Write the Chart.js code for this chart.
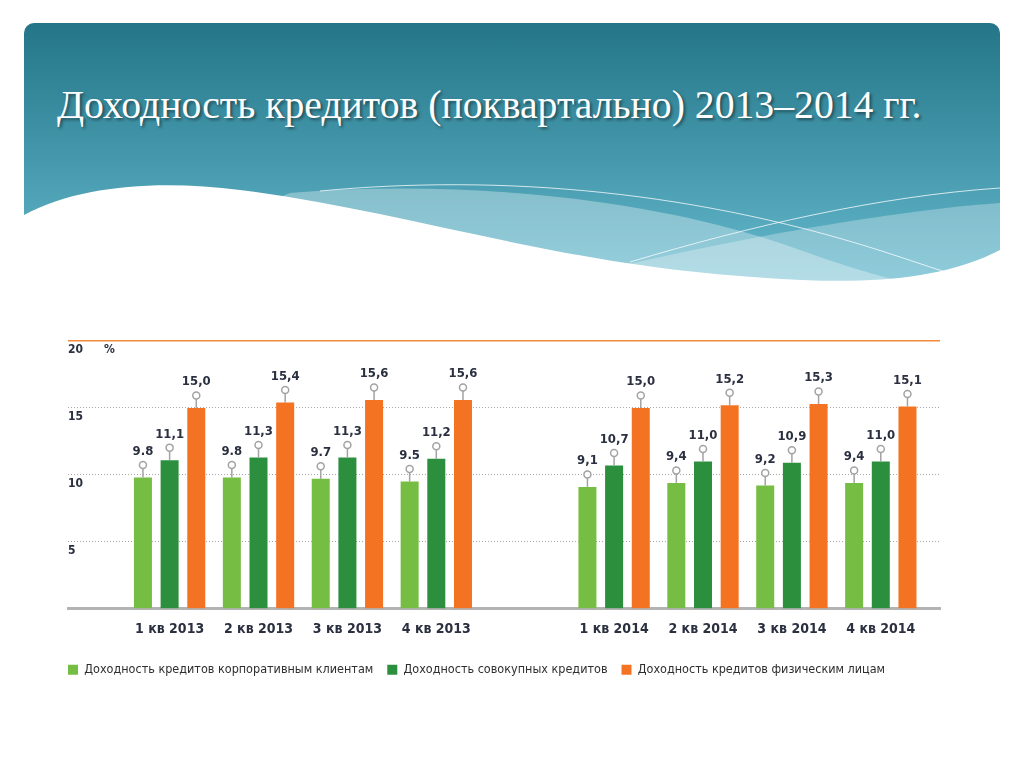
<!DOCTYPE html>
<html>
<head>
<meta charset="utf-8">
<script src="https://cdn.jsdelivr.net/npm/chart.js@4.4.1/dist/chart.umd.min.js"></script>
<style>
  html, body { margin: 0; padding: 0; background: #fff; }
  body { width: 1024px; height: 767px; position: relative; overflow: hidden; }
  #hdr { position: absolute; left: 0; top: 0; }
  #title { position: absolute; left: 57px; top: 85px; margin: 0; font-family: 'Liberation Serif', 'Times New Roman', serif; font-weight: normal; font-size: 39.7px; line-height: 40px; color: #fff; white-space: nowrap; text-shadow: 2px 2px 3px rgba(0,0,0,0.45); }
  #wrap { position: absolute; left: 0; top: 320px; width: 1024px; height: 380px; }
</style>
</head>
<body>
<svg id="hdr" width="1024" height="310" xmlns="http://www.w3.org/2000/svg">
  <defs>
    <linearGradient id="g" x1="0" y1="0" x2="0" y2="1">
      <stop offset="0" stop-color="#237587"/>
      <stop offset="1" stop-color="#6cc0d5"/>
    </linearGradient>
    <clipPath id="c"><rect x="24" y="23" width="976" height="285" rx="10"/></clipPath>
  </defs>
  <g clip-path="url(#c)">
    <rect x="24" y="23" width="976" height="285" fill="url(#g)"/>
    <path d="M290,193 C450,180 650,195 800,250 C870,275 900,282 940,287 L24,300 Z" fill="rgba(255,255,255,0.32)"/>
    <path d="M620,266 C750,236 900,210 1000,203 L1000,300 L620,300 Z" fill="rgba(255,255,255,0.28)"/>
    <path d="M320,191 C500,174 700,190 900,257 C930,267 945,272 965,278" fill="none" stroke="rgba(255,255,255,0.75)" stroke-width="1"/>
    <path d="M630,262 C750,226 880,196 1000,188" fill="none" stroke="rgba(255,255,255,0.75)" stroke-width="1"/>
  </g>
  <path d="M18,218 L24,215 C80,185 160,180 240,190 C400,210 550,262 740,276 C840,284 930,286 1000,250 L1006,246 L1006,310 L18,310 Z" fill="#fff"/>
</svg>
<h1 id="title">Доходность кредитов (поквартально) 2013–2014 гг.</h1>
<div id="wrap"><canvas id="c1" width="1024" height="380"></canvas></div>
<script>
const categories = ['1 кв 2013', '2 кв 2013', '3 кв 2013', '4 кв 2013', '1 кв 2014', '2 кв 2014', '3 кв 2014', '4 кв 2014'];
const corporate = [9.8, 9.8, 9.7, 9.5, 9.1, 9.4, 9.2, 9.4];
const total = [11.1, 11.3, 11.3, 11.2, 10.7, 11.0, 10.9, 11.0];
const individuals = [15.0, 15.4, 15.6, 15.6, 15.0, 15.2, 15.3, 15.1];
const seriesNames = ['Доходность кредитов корпоративным клиентам', 'Доходность совокупных кредитов', 'Доходность кредитов физическим лицам'];
const yTicks = [5, 10, 15, 20];
const unitLabel = '%';

const FONT = "'Liberation Sans Narrow', 'DejaVu Sans Condensed', 'Arial Narrow', sans-serif";
const TXT = '#2b3040';
// position of each quarter on the index axis, leaving one empty slot between the years
const slot = i => i < 4 ? i : i + 1;
const pts = arr => arr.map((v, i) => ({ x: slot(i), y: v }));
const tickSlots = categories.map((c, i) => slot(i));

const markers = {
  id: 'markers',
  afterDatasetsDraw(chart) {
    const ctx = chart.ctx;
    ctx.save();
    chart.data.datasets.forEach((ds, di) => {
      const meta = chart.getDatasetMeta(di);
      meta.data.forEach((bar, i) => {
        const top = bar.y;
        const x = bar.x;
        ctx.strokeStyle = '#a3a3a3';
        ctx.lineWidth = 1.5;
        ctx.beginPath();
        ctx.moveTo(x, top);
        ctx.lineTo(x, top - 9);
        ctx.stroke();
        ctx.beginPath();
        ctx.arc(x, top - 12.5, 3.5, 0, Math.PI * 2);
        ctx.fillStyle = '#fff';
        ctx.fill();
        ctx.stroke();
        const v = ds.data[i].y;
        let s = v.toFixed(1);
        if (!(di === 0 && i < 4)) s = s.replace('.', ',');
        ctx.fillStyle = TXT;
        ctx.font = 'bold 13px ' + FONT;
        ctx.textAlign = 'center';
        ctx.textBaseline = 'middle';
        ctx.fillText(s, x, top - 26);
      });
    });
    const ys = chart.scales.y;
    ctx.font = 'bold 12px ' + FONT;
    ctx.textAlign = 'left';
    ctx.textBaseline = 'middle';
    ctx.fillStyle = TXT;
    ctx.fillText(unitLabel, chart.chartArea.left + 36, ys.getPixelForValue(yTicks[yTicks.length - 1]) + 9);
    ctx.restore();
  }
};

new Chart(document.getElementById('c1'), {
  type: 'bar',
  data: {
    datasets: [
      { label: seriesNames[0], data: pts(corporate), backgroundColor: '#76bd44' },
      { label: seriesNames[1], data: pts(total), backgroundColor: '#2b8f3d' },
      { label: seriesNames[2], data: pts(individuals), backgroundColor: '#f37322' }
    ]
  },
  options: {
    responsive: false,
    animation: false,
    categoryPercentage: 0.9,
    barPercentage: 0.675,
    layout: { padding: { left: 54, right: 84, top: 21, bottom: 14 } },
    scales: {
      x: {
        type: 'linear',
        min: -1.143,
        max: 8.666,
        offset: false,
        grid: { display: false, drawTicks: false },
        border: { display: true, color: '#b3b3b3', width: 3 },
        afterBuildTicks: s => { s.ticks = tickSlots.map(v => ({ value: v })); },
        ticks: {
          autoSkip: false, maxRotation: 0, padding: 12,
          color: TXT,
          font: { family: FONT, size: 14, weight: 'bold' },
          callback: v => { const i = tickSlots.indexOf(v); return i >= 0 ? categories[i] : ''; }
        }
      },
      y: {
        min: 0, max: 20,
        afterBuildTicks: s => { s.ticks = [0].concat(yTicks).map(v => ({ value: v })); },
        afterFit: s => { s.width = 14; },
        grid: {
          drawTicks: false,
          color: c => c.tick && c.tick.value === 20 ? '#f08a3e' : '#a8a8a8',
          lineWidth: c => c.tick && c.tick.value === 20 ? 1.5 : 1
        },
        border: { display: false, dash: c => c.tick && c.tick.value === 20 ? [] : [1, 2] },
        ticks: {
          mirror: true, padding: 0, labelOffset: 9,
          color: TXT,
          font: { family: FONT, size: 12, weight: 'bold' },
          callback: v => v === 0 ? '' : String(v)
        }
      }
    },
    plugins: {
      legend: {
        position: 'bottom', align: 'start',
        labels: { boxWidth: 10, boxHeight: 10, padding: 14, color: '#2e2e2e', font: { family: FONT, size: 12.5 } }
      },
      tooltip: { enabled: false }
    }
  },
  plugins: [markers]
});
</script>
</body>
</html>
